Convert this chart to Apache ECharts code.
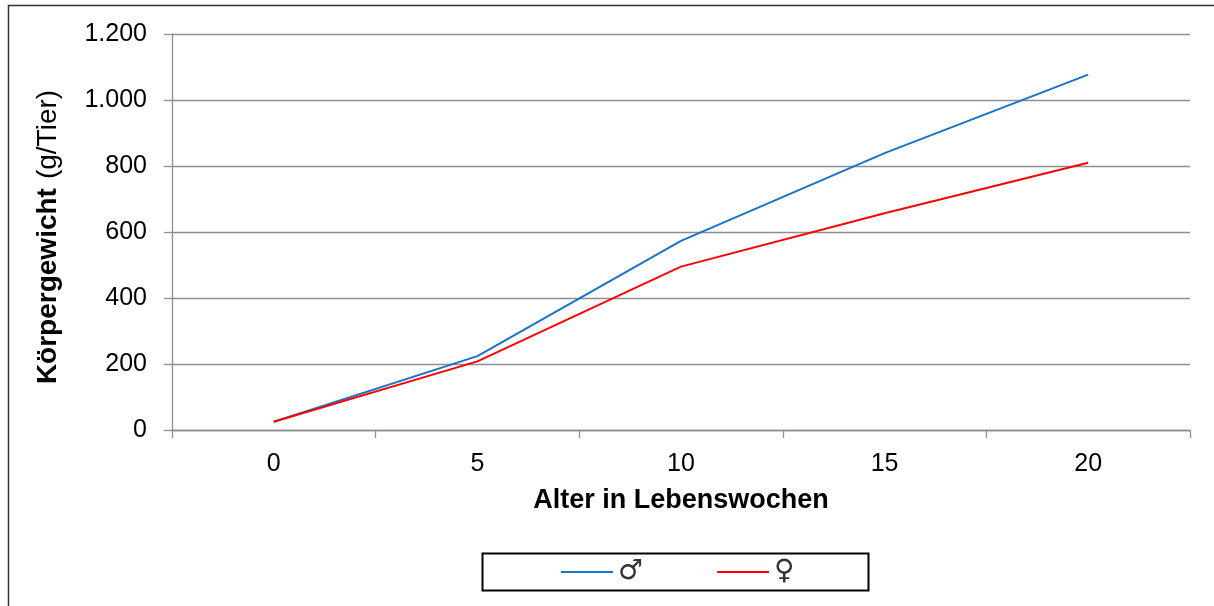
<!DOCTYPE html>
<html>
<head>
<meta charset="utf-8">
<script src="https://cdn.jsdelivr.net/npm/echarts@6/dist/echarts.min.js"></script>
<style>
    html, body { margin: 0; padding: 0; background: #fff; }
    #chart { width: 1214px; height: 606px; }
</style>
</head>
<body>
<div id="chart"></div>
<script>
// Alter (Wochen) und Körpergewicht (g/Tier)
var weeks = ['0', '5', '10', '15', '20'];
var male = [25, 224, 573, 839, 1077];
var female = [25, 208, 495, 657, 810];
var yTicks = [0, 200, 400, 600, 800, 1000, 1200];

var FONT = 'Liberation Sans, Arial, DejaVu Sans, sans-serif';

// 1200 -> 1.200
var fmt = function (v) {
    return String(v).replace(/\B(?=(\d{3})+(?!\d))/g, '.');
};

var chart = echarts.init(document.getElementById('chart'));
var option = {
    animation: false,
    textStyle: { fontFamily: FONT, color: '#000' },
    graphic: [
        {
            type: 'rect',
            shape: { x: 8.5, y: 5.5, width: 1300, height: 700 },
            style: { fill: 'none', stroke: '#333', lineWidth: 1.5 }
        },
        {
            type: 'rect',
            shape: { x: 482.5, y: 553.5, width: 386, height: 37 },
            style: { fill: '#fff', stroke: '#000', lineWidth: 2 },
            z: 0
        }
    ],
    legend: {
        left: 561,
        top: 558,
        padding: 0,
        itemWidth: 52,
        itemHeight: 2,
        itemGap: 74,
        icon: 'rect',
        z: 10,
        textStyle: { fontFamily: 'DejaVu Sans', fontSize: 28, color: '#333' },
        data: ['♂', '♀']
    },
    grid: { left: 172, right: 24, top: 34, bottom: 176 },
    xAxis: {
        type: 'category',
        data: weeks,
        boundaryGap: true,
        name: 'Alter in Lebenswochen',
        nameLocation: 'middle',
        nameGap: 57,
        nameTextStyle: { fontSize: 27, fontWeight: 'bold', color: '#000' },
        axisLine: { lineStyle: { color: '#8e8e8e', width: 1.3 } },
        axisTick: { show: true, length: 8, lineStyle: { color: '#8e8e8e', width: 1.3 } },
        axisLabel: { fontSize: 25, color: '#000', margin: 22 }
    },
    yAxis: {
        type: 'value',
        min: yTicks[0],
        max: yTicks[yTicks.length - 1],
        interval: 200,
        name: '{b|Körpergewicht}{n|(g/Tier)}',
        nameLocation: 'middle',
        nameRotate: 90,
        nameGap: 110,
        nameTextStyle: {
            rich: {
                b: { fontSize: 28, fontWeight: 'bold', color: '#000', fontFamily: FONT },
                n: { fontSize: 28, color: '#000', fontFamily: FONT, padding: [0, 10, 0, 9] }
            }
        },
        axisLine: { show: true, lineStyle: { color: '#8e8e8e', width: 1.3 } },
        axisTick: { show: true, length: 8, lineStyle: { color: '#8e8e8e', width: 1.3 } },
        splitLine: { lineStyle: { color: '#8e8e8e', width: 1.3 } },
        axisLabel: { fontSize: 25, color: '#000', margin: 25, formatter: fmt }
    },
    series: [
        {
            name: '♂',
            type: 'line',
            data: male,
            symbol: 'none',
            color: '#1874c6',
            lineStyle: { width: 2, color: '#1874c6' }
        },
        {
            name: '♀',
            type: 'line',
            data: female,
            symbol: 'none',
            color: '#ff0000',
            lineStyle: { width: 2, color: '#ff0000' }
        }
    ]
};
chart.setOption(option);
</script>
</body>
</html>
